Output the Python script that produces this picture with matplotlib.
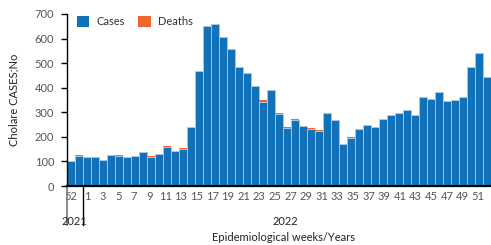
import matplotlib
matplotlib.use("Agg")
import matplotlib.pyplot as plt
import matplotlib.transforms as mtransforms
from matplotlib.patches import Patch
import numpy as np

plt.rcParams['font.family'] = ['Lato', 'DejaVu Sans']

# epi weeks: week 52 of 2021, then weeks 1-52 of 2022
weeks = [52] + list(range(1, 53))
cases = [103, 122, 117, 117, 106, 127, 123, 117, 122, 137,
         118, 132, 157, 141, 152, 239, 468, 651, 661, 606,
         556, 484, 459, 408, 343, 392, 295, 238, 267, 243,
         233, 224, 298, 269, 171, 195, 233, 247, 239, 273,
         289, 297, 309, 289, 364, 353, 383, 346, 351, 361,
         486, 543, 444]
deaths = [0, 4, 0, 0, 0, 0, 3, 0, 0, 0,
          3, 0, 4, 0, 4, 0, 0, 0, 0, 0,
          0, 0, 0, 0, 6, 0, 3, 3, 4, 0,
          4, 3, 0, 0, 0, 6, 0, 0, 0, 0,
          0, 0, 0, 0, 0, 0, 0, 0, 0, 0,
          0, 0, 0]
tick_weeks = [52] + list(range(1, 52, 2))
years = ["2021", "2022"]

blue = "#1172ba"
orange = "#f26430"
fs = 8

fig = plt.figure(figsize=(4.91, 2.45), dpi=100)
ax = fig.add_axes([66.7 / 491, 59 / 245, 424.3 / 491, 172 / 245])

x = np.arange(len(weeks))
ax.bar(x, cases, width=1.0, align="edge", color=blue, edgecolor="#a9cbe9", linewidth=0.6)
ax.bar(x, deaths, width=1.0, align="edge", bottom=cases, color=orange, linewidth=0)

ax.set_xlim(0, len(weeks))
ax.set_ylim(0, 700)
ax.set_yticks(range(0, 701, 100))
ax.tick_params(axis="y", colors="black", labelcolor="#555555", labelsize=fs,
               length=4, width=1, direction="out", pad=5)

# category labels (spread a little wider than the bars, like the original axis)
pos = [0.54 if w == 52 else 2.54 + (w - 1) * 0.9775 for w in tick_weeks]
ax.set_xticks(pos)
ax.set_xticklabels([str(w) for w in tick_weeks])
ax.tick_params(axis="x", length=0, labelcolor="#555555", labelsize=fs, pad=3.5)

for s in ["top", "right"]:
    ax.spines[s].set_visible(False)
ax.spines["left"].set_linewidth(1.0)
ax.spines["bottom"].set_linewidth(1.6)

# year separators and labels
trans = mtransforms.blended_transform_factory(ax.transData, ax.transAxes)
ax.plot([0, 0], [0, -0.227], transform=trans, color="#777777", lw=1.2, clip_on=False)
ax.plot([2.07, 2.07], [0, -0.227], transform=trans, color="black", lw=1.0, clip_on=False)
ax.text(1.0, -0.207, years[0], transform=trans, ha="center", va="center", fontsize=fs, color="#222222")
ax.text(27.3, -0.207, years[1], transform=trans, ha="center", va="center", fontsize=fs, color="#222222")

fig.text(283 / 491, 2 / 245, "Epidemiological weeks/Years", ha="center", va="bottom",
         fontsize=fs, color="#222222")
fig.text(14 / 491, 1 - 99.5 / 245, "Cholare CASES;No", rotation=90, ha="center", va="center",
         fontsize=fs, color="#222222")

handles = [Patch(facecolor=blue, label="Cases"), Patch(facecolor=orange, label="Deaths")]
ax.legend(handles=handles, loc="upper left", bbox_to_anchor=(0.0, 1.045), ncol=2, frameon=False,
          fontsize=fs, handlelength=1.1, handleheight=1.1, handletextpad=0.7, columnspacing=1.2,
          labelcolor="#333333")

fig.savefig("out.png", dpi=100)
